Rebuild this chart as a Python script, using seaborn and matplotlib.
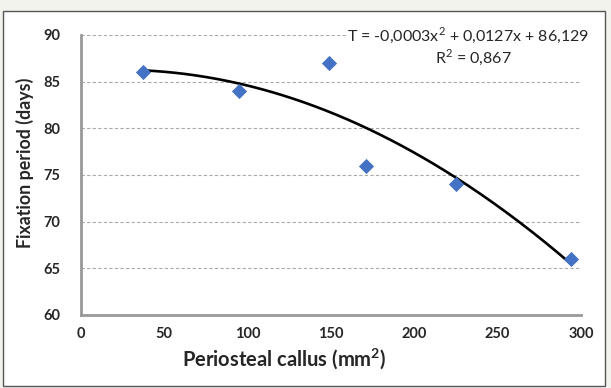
import numpy as np
import pandas as pd
import matplotlib
matplotlib.use("Agg")
import matplotlib.pyplot as plt
import seaborn as sns
from matplotlib.patches import Rectangle

# Data
callus = [37, 95, 149, 171, 225, 294]
fixation = [86, 84, 87, 76, 74, 66]
x_ticks = [0, 50, 100, 150, 200, 250, 300]
y_ticks = [60, 65, 70, 75, 80, 85, 90]
equation = "T = -0,0003x$^2$ + 0,0127x + 86,129"
r2_text = "R$^2$ = 0,867"

sns.set_style("white")
plt.rcParams['font.family'] = ['Lato', 'DejaVu Sans']
plt.rcParams['mathtext.fontset'] = 'custom'
plt.rcParams['mathtext.rm'] = 'Lato'
plt.rcParams['mathtext.bf'] = 'Lato:bold'

df = pd.DataFrame({"callus": callus, "fixation": fixation})

fig = plt.figure(figsize=(6.11, 3.88), dpi=100, facecolor="#f3f3ee")
W, H = 611, 388
bg = Rectangle((3 / W, 2 / H), 602 / W, 375 / H, transform=fig.transFigure,
               facecolor="white", edgecolor="#555555", linewidth=1.0, zorder=-10)
fig.add_artist(bg)
ax = fig.add_axes([81 / W, 1 - 315 / H, 500 / W, 280 / H])
ax.set_zorder(5)
ax.set_facecolor("none")

# polynomial trend line (order 2) fitted to the data
coef = np.polyfit(callus, fixation, 2)
xs = np.linspace(min(callus), max(callus), 200)
trend = pd.DataFrame({"x": xs, "y": np.polyval(coef, xs)})

sns.lineplot(data=trend, x="x", y="y", ax=ax, color="black", linewidth=1.9, zorder=3)
sns.scatterplot(data=df, x="callus", y="fixation", ax=ax, marker="D", s=60,
                color="#4472C4", edgecolor="#4472C4", linewidth=0, zorder=4)

ax.set_xlim(0, 300)
ax.set_ylim(60, 90)
ax.set_xticks(x_ticks)
ax.set_yticks(y_ticks)
ax.set_xticklabels([str(t) for t in x_ticks], fontsize=10.5, fontweight="bold")
ax.set_yticklabels([str(t) for t in y_ticks], fontsize=10.5, fontweight="bold")
ax.tick_params(axis="x", direction="in", length=4, color="#999999", width=1.2, pad=9)
ax.tick_params(axis="y", direction="in", length=3, color="#999999", width=1.0, pad=15)

for yv in y_ticks[1:]:
    ax.axhline(yv, color="#aaaaaa", linestyle=(0, (3, 2)), linewidth=0.8, zorder=1)

for s in ["top", "right"]:
    ax.spines[s].set_visible(False)
for s in ["left", "bottom"]:
    ax.spines[s].set_color("#999999")
    ax.spines[s].set_linewidth(2.0)

ax.set_xlabel("Periosteal callus (mm$\\mathbf{^2}$)", fontsize=14.5, fontweight="bold")
ax.set_ylabel("Fixation period (days)", fontsize=12.8, fontweight="bold")
ax.xaxis.set_label_coords(0.406, -0.11)
ax.yaxis.set_label_coords(-0.094, 0.545)

ax.text(0.775, 1.0, equation, transform=ax.transAxes, ha="center", va="center",
        fontsize=11.5, zorder=5, bbox=dict(facecolor="white", edgecolor="none", pad=0.5))
ax.text(0.785, 0.922, r2_text, transform=ax.transAxes, ha="center", va="center",
        fontsize=11.5, zorder=5)

fig.savefig("out.png", dpi=100, facecolor=fig.get_facecolor())
